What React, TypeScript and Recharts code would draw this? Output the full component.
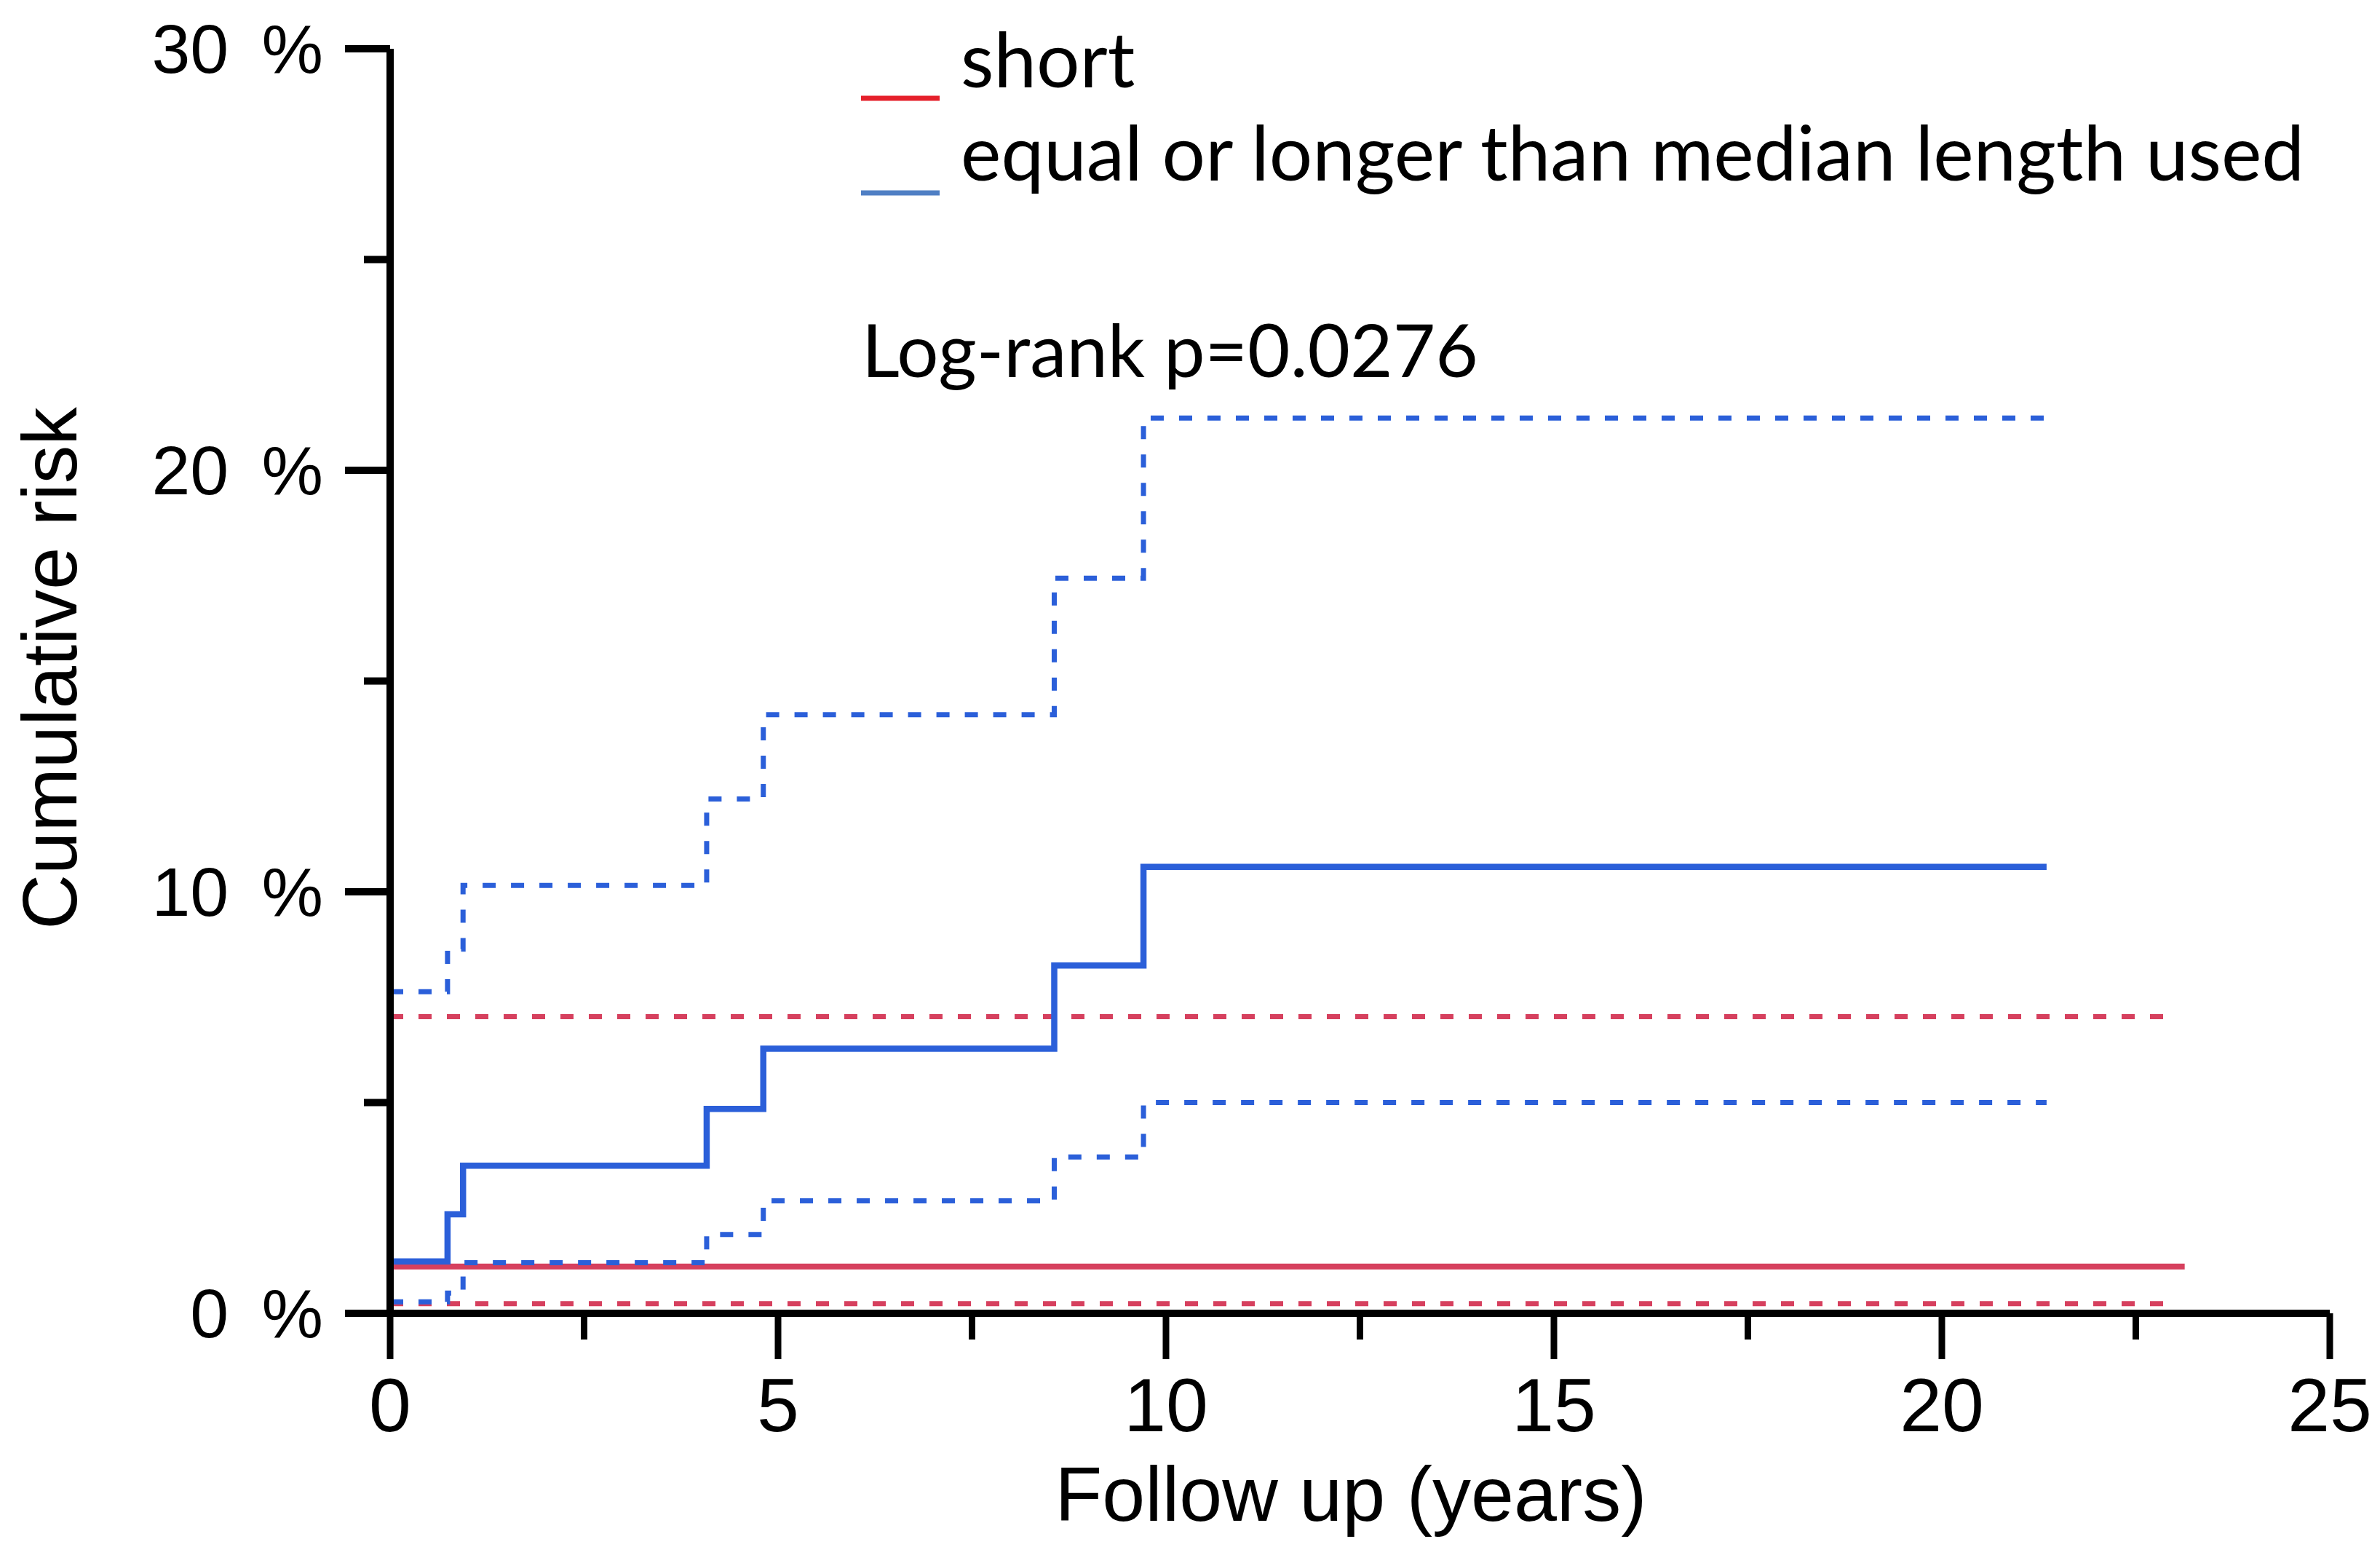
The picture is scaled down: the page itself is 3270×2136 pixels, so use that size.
import React from 'react';
import { LineChart, Line, XAxis, YAxis, Customized } from 'recharts';

// colours
const RED = '#d6405e';
const BLUE = '#2b5fd9';
const LEGEND_RED = '#e5202b';
const LEGEND_BLUE = '#4f7fc4';

// short group (red): estimate + 95% CI
const shortTimes = [0, 23.13];
const shortRisk = [1.11, 1.11];
const shortUpperTimes = [0, 22.97];
const shortUpper = [7.04, 7.04];
const shortLowerTimes = [0, 22.97];
const shortLower = [0.23, 0.23];

// equal or longer than median (blue): estimate + 95% CI
const longTimes = [0, 0, 0.74, 0.94, 4.08, 4.81, 8.56, 9.71, 21.35];
const longRisk = [0, 1.23, 2.35, 3.5, 4.85, 6.28, 8.25, 10.59, 10.59];
const longUpperTimes = [0, 0.74, 0.94, 4.08, 4.81, 8.56, 9.71, 21.35];
const longUpper = [7.63, 8.64, 10.15, 12.2, 14.2, 17.44, 21.24, 21.24];
const longLowerTimes = [0, 0.74, 0.94, 4.08, 4.81, 8.56, 9.71, 21.35];
const longLower = [0.27, 0.48, 1.2, 1.87, 2.67, 3.71, 5.0, 5.0];

const xTicks = [0, 2.5, 5, 7.5, 10, 12.5, 15, 17.5, 20, 22.5, 25];
const yTicks = [0, 5, 10, 15, 20, 25, 30];

const legendItems = ['short', 'equal or longer than median length used'];
const pValueText = 'Log-rank p=0.0276';

const toPoints = (times: number[], values: number[]) =>
  times.map((t, i) => ({ t, v: values[i] }));

const W = 3270;
const H = 2136;
const PLOT_LEFT = 536;
const PLOT_BOTTOM = 1804;
const AXIS_FONT = '"Liberation Sans", Arial, Helvetica, sans-serif';
const LEGEND_FONT = 'Lato, "Open Sans", sans-serif';

const YTick = (props: any) => {
  const { y, payload } = props;
  const major = payload.value % 10 === 0;
  const len = major ? 62 : 36;
  return (
    <g>
      <line x1={PLOT_LEFT - len} x2={PLOT_LEFT} y1={y} y2={y} stroke="#000" strokeWidth={10} />
      {major && (
        <text
          x={444}
          y={y + 33}
          textAnchor="end"
          fontSize={95}
          fontFamily={AXIS_FONT}
          fill="#000"
        >
          {`${payload.value}\u2009 %`}
        </text>
      )}
    </g>
  );
};

const XTick = (props: any) => {
  const { x, payload } = props;
  const major = payload.value % 5 === 0;
  const len = major ? 63 : 36;
  return (
    <g>
      <line x1={x} x2={x} y1={PLOT_BOTTOM} y2={PLOT_BOTTOM + len} stroke="#000" strokeWidth={9} />
      {major && (
        <text
          x={x}
          y={1966}
          textAnchor="middle"
          fontSize={104}
          fontFamily={AXIS_FONT}
          fill="#000"
        >
          {payload.value}
        </text>
      )}
    </g>
  );
};

const Annotations = () => (
  <g>
    <text
      x={1856}
      y={2089}
      textAnchor="middle"
      fontSize={106}
      fontFamily={AXIS_FONT}
      fill="#000"
    >
      Follow up (years)
    </text>
    <text
      x={105}
      y={918}
      textAnchor="middle"
      fontSize={105}
      fontFamily={AXIS_FONT}
      fill="#000"
      transform="rotate(-90, 105, 918)"
    >
      Cumulative risk
    </text>
    <line x1={1183} x2={1291} y1={135} y2={135} stroke={LEGEND_RED} strokeWidth={7} />
    <line x1={1183} x2={1291} y1={265} y2={265} stroke={LEGEND_BLUE} strokeWidth={7} />
    <text x={1320} y={120} fontSize={105} fontFamily={LEGEND_FONT} fill="#000">
      {legendItems[0]}
    </text>
    <text x={1320} y={248} fontSize={105} fontFamily={LEGEND_FONT} fill="#000">
      {legendItems[1]}
    </text>
    <text x={1184} y={518} fontSize={101} fontFamily={LEGEND_FONT} fill="#000">
      {pValueText}
    </text>
  </g>
);

export default function App() {
  const dash = '18 21';
  return (
    <div style={{ position: 'absolute', left: 0, top: 0, background: '#fff' }}>
      <LineChart
        width={W}
        height={H}
        margin={{ top: 67, right: 69, bottom: 0, left: 0 }}
      >
        <XAxis
          type="number"
          dataKey="t"
          domain={[0, 25]}
          ticks={xTicks}
          interval={0}
          height={H - PLOT_BOTTOM}
          axisLine={{ stroke: '#000', strokeWidth: 10 }}
          tickLine={false}
          tick={<XTick />}
        />
        <YAxis
          type="number"
          dataKey="v"
          domain={[0, 30]}
          ticks={yTicks}
          interval={0}
          width={PLOT_LEFT}
          axisLine={{ stroke: '#000', strokeWidth: 10 }}
          tickLine={false}
          tick={<YTick />}
        />
        <Line
          data={toPoints(shortUpperTimes, shortUpper)}
          dataKey="v"
          type="stepAfter"
          stroke={RED}
          strokeWidth={7}
          strokeDasharray={dash}
          dot={false}
          isAnimationActive={false}
        />
        <Line
          data={toPoints(shortLowerTimes, shortLower)}
          dataKey="v"
          type="stepAfter"
          stroke={RED}
          strokeWidth={7}
          strokeDasharray={dash}
          dot={false}
          isAnimationActive={false}
        />
        <Line
          data={toPoints(shortTimes, shortRisk)}
          dataKey="v"
          type="stepAfter"
          stroke={RED}
          strokeWidth={8}
          dot={false}
          isAnimationActive={false}
        />
        <Line
          data={toPoints(longUpperTimes, longUpper)}
          dataKey="v"
          type="stepAfter"
          stroke={BLUE}
          strokeWidth={7}
          strokeDasharray={dash}
          dot={false}
          isAnimationActive={false}
        />
        <Line
          data={toPoints(longLowerTimes, longLower)}
          dataKey="v"
          type="stepAfter"
          stroke={BLUE}
          strokeWidth={7}
          strokeDasharray={dash}
          dot={false}
          isAnimationActive={false}
        />
        <Line
          data={toPoints(longTimes, longRisk)}
          dataKey="v"
          type="stepAfter"
          stroke={BLUE}
          strokeWidth={8.5}
          dot={false}
          isAnimationActive={false}
        />
        <Customized component={Annotations} />
      </LineChart>
    </div>
  );
}
